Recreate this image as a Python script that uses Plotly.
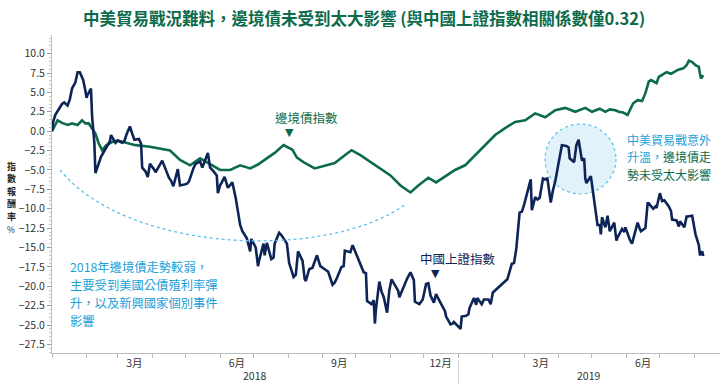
import plotly.graph_objects as go

# ---------------- data ----------------
sse_dates = [
    "2018-01-01","2018-01-02","2018-01-04","2018-01-08","2018-01-10","2018-01-12","2018-01-15","2018-01-17",
    "2018-01-19","2018-01-22","2018-01-24","2018-01-26","2018-01-29","2018-01-31","2018-02-01","2018-02-02",
    "2018-02-05","2018-02-06","2018-02-07","2018-02-08","2018-02-09","2018-02-12","2018-02-14","2018-02-22",
    "2018-02-23","2018-02-27","2018-03-01","2018-03-05","2018-03-07","2018-03-09","2018-03-12","2018-03-14",
    "2018-03-16","2018-03-20","2018-03-22","2018-03-23","2018-03-26","2018-03-28","2018-03-30","2018-04-03",
    "2018-04-04","2018-04-10","2018-04-12","2018-04-16","2018-04-18","2018-04-20","2018-04-24","2018-04-26",
    "2018-05-02","2018-05-04","2018-05-08","2018-05-10","2018-05-14","2018-05-16","2018-05-21","2018-05-23",
    "2018-05-25","2018-05-29","2018-05-30","2018-06-01","2018-06-05","2018-06-08","2018-06-12","2018-06-15",
    "2018-06-19","2018-06-21","2018-06-25","2018-06-28","2018-06-29","2018-07-03","2018-07-05","2018-07-06",
    "2018-07-10","2018-07-11","2018-07-13","2018-07-17","2018-07-19","2018-07-20","2018-07-24","2018-07-26",
    "2018-07-31","2018-08-02","2018-08-06","2018-08-08","2018-08-10","2018-08-14","2018-08-16","2018-08-17",
    "2018-08-20","2018-08-23","2018-08-27","2018-08-30","2018-09-03","2018-09-06","2018-09-10","2018-09-12",
    "2018-09-14","2018-09-18","2018-09-20","2018-09-21","2018-09-26","2018-09-28","2018-10-08","2018-10-10",
    "2018-10-11","2018-10-15","2018-10-17","2018-10-18","2018-10-19","2018-10-22","2018-10-24","2018-10-26",
    "2018-10-29","2018-10-31","2018-11-02","2018-11-06","2018-11-08","2018-11-09","2018-11-13","2018-11-16",
    "2018-11-19","2018-11-22","2018-11-23","2018-11-27","2018-11-30","2018-12-03","2018-12-05","2018-12-07",
    "2018-12-10","2018-12-12","2018-12-14","2018-12-18","2018-12-20","2018-12-21","2018-12-25","2018-12-27",
    "2018-12-28","2019-01-03","2019-01-04","2019-01-08","2019-01-10","2019-01-11","2019-01-15","2019-01-17",
    "2019-01-18","2019-01-22","2019-01-24","2019-01-28","2019-01-30","2019-02-01","2019-02-12","2019-02-14",
    "2019-02-18","2019-02-20","2019-02-22","2019-02-25","2019-02-27","2019-03-01","2019-03-05","2019-03-07",
    "2019-03-08","2019-03-11","2019-03-13","2019-03-15","2019-03-18","2019-03-20","2019-03-22","2019-03-25",
    "2019-03-27","2019-03-29","2019-04-01","2019-04-03","2019-04-04","2019-04-08","2019-04-10","2019-04-11",
    "2019-04-15","2019-04-17","2019-04-19","2019-04-22","2019-04-24","2019-04-25","2019-04-26","2019-04-29",
    "2019-04-30","2019-05-06","2019-05-08","2019-05-09","2019-05-10","2019-05-13","2019-05-15","2019-05-17",
    "2019-05-21","2019-05-23","2019-05-24","2019-05-28","2019-05-30","2019-05-31","2019-06-04","2019-06-06",
    "2019-06-11","2019-06-13","2019-06-14","2019-06-18","2019-06-20","2019-06-21","2019-06-25","2019-06-27",
    "2019-06-28","2019-07-01","2019-07-03","2019-07-05","2019-07-09","2019-07-11","2019-07-12","2019-07-16",
    "2019-07-18","2019-07-19","2019-07-23","2019-07-25","2019-07-26","2019-07-30","2019-08-01","2019-08-02",
    "2019-08-05","2019-08-06","2019-08-08","2019-08-09",
]
sse_values = [
    0.0, 1.2, 2.1, 3.0, 3.5, 3.7, 3.3, 4.1,
    5.5, 6.3, 7.6, 7.6, 6.6, 5.2, 4.3, 4.7,
    5.5, 1.9, 0.0, -1.4, -5.4, -4.1, -3.3, -1.3,
    -0.5, -1.5, -1.2, -1.5, -1.3, -0.4, 0.6, -0.3,
    -1.1, -1.0, -1.6, -4.7, -5.2, -5.9, -4.2, -5.0,
    -5.3, -3.8, -4.5, -6.0, -6.4, -7.1, -4.9, -7.0,
    -6.8, -6.5, -4.8, -4.2, -3.9, -4.7, -2.8, -4.7,
    -5.0, -5.7, -8.0, -7.0, -5.9, -7.3, -6.6, -8.6,
    -12.1, -12.9, -13.8, -15.5, -13.9, -15.0, -17.4, -16.7,
    -14.5, -16.0, -14.4, -16.5, -16.3, -14.5, -13.1, -13.4,
    -14.5, -17.0, -18.8, -18.5, -15.5, -16.7, -19.1, -19.3,
    -17.8, -17.6, -16.0, -17.4, -17.8, -18.1, -19.8, -19.5,
    -18.9, -17.5, -17.4, -15.4, -15.6, -14.7, -18.2, -18.3,
    -21.9, -22.3, -21.8, -24.8, -22.9, -19.4, -20.7, -21.4,
    -23.4, -20.5, -19.1, -20.0, -20.6, -21.4, -19.9, -19.0,
    -18.2, -19.2, -22.0, -22.3, -21.7, -19.7, -19.6, -21.2,
    -22.1, -21.0, -21.6, -22.6, -23.2, -23.9, -24.9, -24.8,
    -24.6, -25.5, -23.9, -23.8, -23.6, -22.8, -21.5, -22.4,
    -21.5, -22.3, -21.7, -21.7, -22.3, -20.8, -19.3, -19.1,
    -17.1, -17.0, -15.2, -10.5, -10.4, -9.5, -7.3, -6.2,
    -10.2, -8.5, -8.8, -8.6, -6.1, -6.2, -6.1, -9.2,
    -7.6, -6.5, -4.1, -2.6, -1.8, -1.9, -2.1, -3.5,
    -4.0, -1.8, -1.1, -3.8, -3.5, -6.1, -6.7, -6.0,
    -5.8, -12.1, -12.1, -13.3, -11.1, -12.4, -10.9, -12.9,
    -11.8, -14.1, -13.7, -12.6, -13.0, -12.4, -14.0, -14.5,
    -11.8, -12.6, -12.9, -12.5, -9.3, -9.3, -10.0, -9.7,
    -9.9, -8.0, -9.0, -8.9, -9.7, -10.3, -11.4, -11.5,
    -12.3, -11.6, -12.4, -11.0, -11.0, -10.9, -12.2, -13.3,
    -14.7, -16.0, -15.5, -16.1,
]

frontier_dates = [
    "2018-01-01","2018-01-06","2018-01-10","2018-01-15","2018-01-19","2018-01-24","2018-01-28","2018-01-31",
    "2018-02-03","2018-02-06","2018-02-09","2018-02-12","2018-02-15","2018-02-19","2018-02-24","2018-03-01",
    "2018-03-08","2018-03-17","2018-03-30","2018-04-08","2018-04-17","2018-04-26","2018-05-05","2018-05-14",
    "2018-05-23","2018-06-01","2018-06-10","2018-06-19","2018-06-28","2018-07-05","2018-07-11","2018-07-20",
    "2018-07-28","2018-08-05","2018-08-09","2018-08-16","2018-08-25","2018-09-03","2018-09-12","2018-09-21",
    "2018-09-27","2018-10-05","2018-10-14","2018-10-23","2018-11-01","2018-11-10","2018-11-19","2018-11-26",
    "2018-12-05","2018-12-12","2018-12-20","2018-12-29","2019-01-07","2019-01-16","2019-01-25","2019-02-03",
    "2019-02-12","2019-02-21","2019-03-02","2019-03-11","2019-03-20","2019-03-29","2019-04-07","2019-04-16",
    "2019-04-25","2019-05-01","2019-05-08","2019-05-13","2019-05-17","2019-05-22","2019-05-25","2019-05-29",
    "2019-06-02","2019-06-04","2019-06-07","2019-06-11","2019-06-15","2019-06-18","2019-06-21","2019-06-23",
    "2019-06-28","2019-06-30","2019-07-04","2019-07-07","2019-07-11","2019-07-14","2019-07-17","2019-07-22",
    "2019-07-25","2019-07-27","2019-07-30","2019-08-02","2019-08-05","2019-08-06","2019-08-07","2019-08-09",
]
frontier_values = [
    0.0, 1.4, 1.07, 0.8, 1.0, 0.8, 1.4, 1.0,
    1.0, 0.35, -0.3, -1.6, -2.45, -1.8, -1.4, -1.2,
    -1.5, -1.8, -2.0, -2.3, -2.5, -3.7, -4.4, -3.5,
    -4.2, -5.0, -5.0, -4.4, -4.8, -4.3, -3.7, -2.8,
    -1.8, -2.4, -3.4, -4.1, -4.8, -4.4, -4.1, -3.1,
    -2.45, -3.1, -4.0, -4.8, -5.7, -7.0, -7.9, -7.0,
    -6.0, -6.6, -5.9, -5.0, -4.4, -3.1, -1.8, -0.5,
    0.4, 1.2, 1.4, 2.3, 1.8, 2.7, 3.0, 2.5,
    3.0, 2.5, 2.9, 2.5, 2.8, 2.7, 2.5, 2.4,
    2.1, 2.7, 3.6, 4.0, 3.9, 4.9, 6.4, 6.6,
    6.2, 7.0, 7.4, 7.6, 7.4, 7.6, 7.9, 8.1,
    8.5, 9.1, 8.9, 8.5, 8.3, 7.4, 6.8, 7.2,
]

y_tick_values = [10.0, 7.5, 5.0, 2.5, 0.0, -2.5, -5.0, -7.5, -10.0, -12.5, -15.0,
                 -17.5, -20.0, -22.5, -25.0, -27.5]
month_label_dates = ["2018-03-16", "2018-06-16", "2018-09-16", "2018-12-16", "2019-03-16", "2019-06-16"]
month_labels = ["3月", "6月", "9月", "12月", "3月", "6月"]
year_label_dates = ["2018-07-02", "2019-04-28"]
year_labels = ["2018", "2019"]
y_title_chars = ["指", "數", "報", "酬", "率"]

# ---------------- style ----------------
NAVY = "#0c2456"
GREEN = "#0b6b4b"
BLUE = "#1b9fd9"
W, H = 725, 384
ML, MR, MT, MB = 52, 5, 35, 31
PW, PH = W - ML - MR, H - MT - MB
FONT = "Noto Sans CJK TC"


def px(x):
    return (x - ML) / PW


def py(y):
    return (H - MB - y) / PH


fig = go.Figure()
fig.add_trace(go.Scatter(x=frontier_dates, y=frontier_values, mode="lines",
                         line=dict(color=GREEN, width=2.6), name="邊境債指數"))
fig.add_trace(go.Scatter(x=sse_dates, y=sse_values, mode="lines",
                         line=dict(color=NAVY, width=2.6), name="中國上證指數"))

shapes = []
shapes.append(dict(type="path", xref="paper", yref="paper", layer="above",
                   path=f"M {px(60)} {py(170)} C {px(130)} {py(255)} {px(330)} {py(260)} {px(406)} {py(204)}",
                   line=dict(color="#5cc0ea", width=1.3, dash="dot")))
shapes.append(dict(type="circle", xref="paper", yref="paper", layer="below",
                   x0=px(545), x1=px(616), y0=py(194), y1=py(124),
                   fillcolor="#e1f2fb", line=dict(color="#5cc0ea", width=1.2, dash="dot")))
shapes.append(dict(type="line", xref="x", yref="paper", x0="2019-01-01", x1="2019-01-01",
                   y0=py(360), y1=py(384), line=dict(color="#d0d0d0", width=1)))

ann = []
ann.append(dict(text="<b>中美貿易戰況難料，邊境債未受到太大影響 (與中國上證指數相關係數僅0.32)</b>",
                xref="paper", yref="paper", x=px(364), y=py(18), showarrow=False,
                font=dict(family=FONT, size=16.5, color=GREEN), xanchor="center", yanchor="middle"))
for i, c in enumerate(y_title_chars):
    ann.append(dict(text=f"<b>{c}</b>", xref="paper", yref="paper", x=px(11), y=py(166 + 12.5 * i),
                    showarrow=False, xanchor="center", yanchor="middle", borderpad=0,
                    font=dict(family=FONT, size=9, color="#222")))
ann.append(dict(text="%", xref="paper", yref="paper", x=px(11), y=py(229), showarrow=False,
                xanchor="center", yanchor="middle", borderpad=0,
                font=dict(family=FONT, size=8.5, color="#222")))
left_lines = ["2018年邊境債走勢較弱，", "主要受到美國公債殖利率彈", "升，以及新興國家個別事件", "影響"]
for i, t in enumerate(left_lines):
    ann.append(dict(text=t, xref="paper", yref="paper", x=px(69), y=py(267 + 18 * i),
                    showarrow=False, xanchor="left", yanchor="middle", borderpad=0,
                    font=dict(family=FONT, size=12.3, color=BLUE)))
right_lines = [
    f"<span style='color:{BLUE}'>中美貿易戰意外</span>",
    f"<span style='color:{BLUE}'>升溫，</span><span style='color:{GREEN}'>邊境債走</span>",
    f"<span style='color:{GREEN}'>勢未受太大影響</span>",
]
for i, t in enumerate(right_lines):
    ann.append(dict(text=t, xref="paper", yref="paper", x=px(626), y=py(139 + 17.5 * i),
                    showarrow=False, xanchor="left", yanchor="middle", borderpad=0,
                    font=dict(family=FONT, size=12, color=BLUE)))
ann.append(dict(text="邊境債指數", xref="paper", yref="paper", x=px(306), y=py(117), showarrow=False,
                font=dict(family=FONT, size=12.5, color=GREEN), xanchor="center", yanchor="middle"))
ann.append(dict(text="▼", xref="paper", yref="paper", x=px(289), y=py(132), showarrow=False,
                font=dict(family="DejaVu Sans", size=11, color=GREEN), xanchor="center", yanchor="middle"))
ann.append(dict(text="中國上證指數", xref="paper", yref="paper", x=px(458), y=py(258), showarrow=False,
                font=dict(family=FONT, size=12.5, color=NAVY), xanchor="center", yanchor="middle"))
ann.append(dict(text="▼", xref="paper", yref="paper", x=px(435), y=py(273), showarrow=False,
                font=dict(family="DejaVu Sans", size=11, color=NAVY), xanchor="center", yanchor="middle"))
for d, t in zip(year_label_dates, year_labels):
    ann.append(dict(text=t, xref="x", yref="paper", x=d, y=py(375), showarrow=False,
                    font=dict(family=FONT, size=10.5, color="#333"), xanchor="center", yanchor="middle"))

fig.update_layout(
    width=W, height=H, margin=dict(l=ML, r=MR, t=MT, b=MB),
    paper_bgcolor="white", plot_bgcolor="white", showlegend=False,
    font=dict(family=FONT, color="#333"),
    shapes=shapes, annotations=ann,
    xaxis=dict(range=["2018-01-01", "2019-08-24"], showgrid=False, zeroline=False,
               showline=True, linecolor="#bdbdbd", linewidth=1,
               tickmode="array", tickvals=month_label_dates, ticktext=month_labels,
               ticks="", tickfont=dict(size=10.5, color="#333", family=FONT),
               minor=dict(tickmode="linear", tick0="2018-01-01", dtick="M1",
                          ticks="outside", ticklen=4, tickcolor="#bdbdbd")),
    yaxis=dict(range=[-28.6, 12.4], showgrid=False, zeroline=False,
               showline=True, linecolor="#bdbdbd", linewidth=1,
               tickmode="array", tickvals=y_tick_values, tickformat=".1f",
               ticks="outside", ticklen=4, tickcolor="#9a9a9a",
               tickfont=dict(size=10.5, color="#333", family=FONT),
               minor=dict(dtick=0.5, tick0=0, ticks="outside", ticklen=2, tickcolor="#c8c8c8")),
)

fig.write_html("out.html", config={"displayModeBar": False},
               post_script="document.body.style.margin='0';")
